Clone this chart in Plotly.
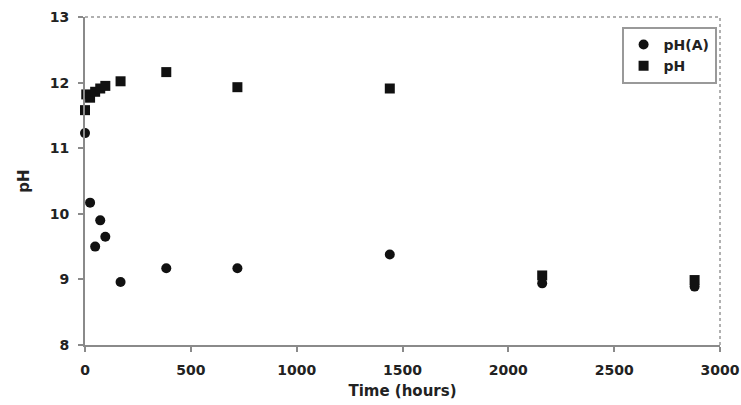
import plotly.graph_objects as go

# Sampling times (hours)
time_hours = [0, 24, 48, 72, 96, 168, 384, 720, 1440, 2160, 2880]
time_hours_ph = [0, 6, 24, 48, 72, 96, 168, 384, 720, 1440, 2160, 2880]

# pH(A) readings
ph_a = [11.23, 10.17, 9.5, 9.9, 9.65, 8.96, 9.17, 9.17, 9.38, 8.94, 8.89]
# pH readings
ph = [11.58, 11.82, 11.77, 11.86, 11.91, 11.95, 12.02, 12.16, 11.93, 11.91, 9.06, 8.99]

x_ticks = [0, 500, 1000, 1500, 2000, 2500, 3000]
y_ticks = [8, 9, 10, 11, 12, 13]

tick_font = dict(family="DejaVu Sans", size=14, color="#222", weight="bold")
axis_gray = "#8a8a8a"

fig = go.Figure()
fig.add_trace(go.Scatter(
    x=time_hours, y=ph_a, mode="markers", name="pH(A)", cliponaxis=False,
    marker=dict(symbol="circle", size=10, color="#111"),
))
fig.add_trace(go.Scatter(
    x=time_hours_ph, y=ph, mode="markers", name="pH", cliponaxis=False,
    marker=dict(symbol="square", size=10, color="#111"),
))

# dotted frame along the top and right edges
fig.add_shape(type="line", xref="paper", yref="paper", x0=0, x1=1, y0=1, y1=1,
              line=dict(color="#b0b0b0", width=2, dash="dot"), layer="below")
fig.add_shape(type="line", xref="paper", yref="paper", x0=1, x1=1, y0=0, y1=1,
              line=dict(color="#b0b0b0", width=2, dash="dot"), layer="below")

fig.update_layout(
    width=741, height=405,
    margin=dict(l=85, r=21, t=17, b=60),
    paper_bgcolor="white", plot_bgcolor="white",
    font=dict(family="DejaVu Sans", color="#222"),
    showlegend=True,
    legend=dict(
        x=0.845, y=0.97, xanchor="left", yanchor="top",
        bgcolor="white", bordercolor="#999", borderwidth=2,
        font=dict(family="DejaVu Sans", size=14, color="#222", weight="bold"),
        itemwidth=30, tracegroupgap=0,
    ),
    xaxis=dict(
        range=[0, 3000], tickvals=x_ticks, ticktext=[str(v) for v in x_ticks],
        showgrid=False, zeroline=False, automargin=False,
        showline=True, linecolor=axis_gray, linewidth=2,
        ticks="outside", ticklen=5, tickcolor=axis_gray, tickwidth=2,
        tickfont=tick_font, ticklabelstandoff=6,
        title=dict(text="<b>Time (hours)</b>", font=dict(family="DejaVu Sans", size=15, color="#222"), standoff=9),
    ),
    yaxis=dict(
        range=[8, 13], tickvals=y_ticks, ticktext=[str(v) for v in y_ticks],
        showgrid=False, zeroline=False, automargin=False,
        showline=True, linecolor=axis_gray, linewidth=2,
        ticks="outside", ticklen=5, tickcolor=axis_gray, tickwidth=2,
        tickfont=tick_font, ticklabelstandoff=6,
        title=dict(text="<b>pH</b>", font=dict(family="DejaVu Sans", size=15, color="#222"), standoff=16),
    ),
)

fig.write_html("out.html")
